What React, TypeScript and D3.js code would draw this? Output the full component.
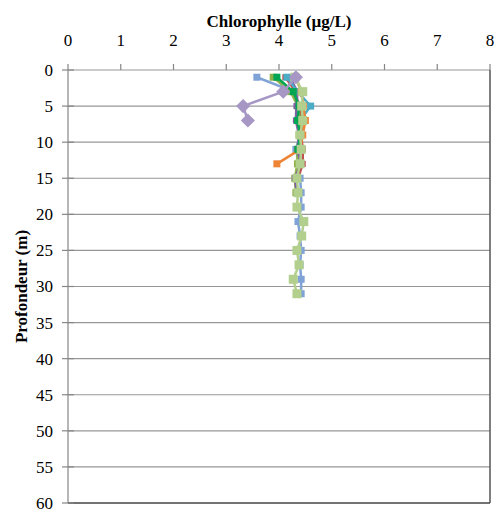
import React from "react";
import * as d3 from "d3";

const xTicks = [0, 1, 2, 3, 4, 5, 6, 7, 8];
const yTicks = [0, 5, 10, 15, 20, 25, 30, 35, 40, 45, 50, 55, 60];
const depths = [1, 3, 5, 7, 9, 11, 13, 15, 17, 19, 21, 23, 25, 27, 29, 31];

const blueVals = [3.58, 4.28, 4.4, 4.36, 4.4, 4.32, 4.38, 4.4, 4.42, 4.42, 4.36, 4.4, 4.42, 4.4, 4.42, 4.42];
const redVals = [4.12, 4.32, 4.36, 4.45, 4.42, 4.45, 4.45, 4.36];
const oliveVals = [3.89, 4.22, 4.36, 4.4, 4.38, 4.35, 4.35, 4.3, 4.32];
const purpleVals = [4.2, 4.35, 4.33, 4.32, 4.38, 4.35, 4.42, 4.3, 4.34];
const tealVals = [4.15, 4.35, 4.6, 4.4];
const orangeVals = [4.32, 4.42, 4.46, 4.5, 4.45, 4.4, 3.96];
const greenVals = [3.96, 4.27, 4.38, 4.35, 4.4, 4.36];
const lightGreenVals = [4.3, 4.45, 4.43, 4.45, 4.4, 4.42, 4.4, 4.34, 4.36, 4.34, 4.47, 4.43, 4.34, 4.38, 4.27, 4.34];
const lavenderVals = [4.32, 4.08, 3.32, 3.41];

const series = [
  { vals: blueVals, color: "#7FA3D6", shape: "square", size: 7 },
  { vals: redVals, color: "#C0504D", shape: "square", size: 6 },
  { vals: oliveVals, color: "#8DB04A", shape: "square", size: 7 },
  { vals: purpleVals, color: "#7F5FA6", shape: "square", size: 6 },
  { vals: tealVals, color: "#4BACC6", shape: "square", size: 7 },
  { vals: orangeVals, color: "#EE8435", shape: "square", size: 7 },
  { vals: greenVals, color: "#00A651", shape: "square", size: 7 },
  { vals: lightGreenVals, color: "#B3CF8D", shape: "square", size: 9 },
  { vals: lavenderVals, color: "#A697C4", shape: "diamond", size: 10 },
];

const W = 500, H = 512;
const L = 68, R = 490, T = 70, B = 503;
const font = "'Liberation Serif', 'Times New Roman', Times, serif";

export default function App() {
  const x = d3.scaleLinear().domain([0, 8]).range([L, R]);
  const y = d3.scaleLinear().domain([0, 60]).range([T, B]);
  const line = d3.line<[number, number]>().x((d) => x(d[0])).y((d) => y(d[1]));

  return (
    <svg width={W} height={H} style={{ position: "absolute", left: 0, top: 0, background: "#fff" }}>
      {yTicks.map((t) => (
        <line key={"g" + t} x1={L} x2={R} y1={y(t)} y2={y(t)} stroke="#979797" strokeWidth={1.2} />
      ))}
      <line x1={L} x2={L} y1={T} y2={B} stroke="#868686" strokeWidth={1.2} />
      <line x1={R} x2={R} y1={T} y2={B} stroke="#555" strokeWidth={1.5} />
      <line x1={L} x2={R} y1={B} y2={B} stroke="#555" strokeWidth={1.5} />
      {yTicks.map((t) => (
        <line key={"yt" + t} x1={L - 6} x2={L + 6} y1={y(t)} y2={y(t)} stroke="#868686" strokeWidth={1.2} />
      ))}
      {xTicks.map((t) => (
        <line key={"xt" + t} x1={x(t)} x2={x(t)} y1={T - 6} y2={T} stroke="#868686" strokeWidth={1.2} />
      ))}
      {xTicks.map((t) => (
        <text key={"xl" + t} x={x(t)} y={46} textAnchor="middle" fontFamily={font} fontSize={17} fill="#000">
          {t}
        </text>
      ))}
      {yTicks.map((t) => (
        <text key={"yl" + t} x={53} y={y(t)} dy="0.35em" textAnchor="end" fontFamily={font} fontSize={17} fill="#000">
          {t}
        </text>
      ))}
      <text x={(L + R) / 2} y={27} textAnchor="middle" fontFamily={font} fontSize={17} fontWeight="bold">
        Chlorophylle (µg/L)
      </text>
      <text
        transform={`translate(27, ${(T + B) / 2}) rotate(-90)`}
        textAnchor="middle"
        fontFamily={font}
        fontSize={17}
        fontWeight="bold"
      >
        Profondeur (m)
      </text>
      {series.map((s, i) => {
        const pts: [number, number][] = s.vals.map((v, j) => [v, depths[j]]);
        return (
          <g key={"s" + i}>
            <path d={line(pts) || ""} fill="none" stroke={s.color} strokeWidth={2.5} strokeLinejoin="round" />
            {pts.map((p, j) =>
              s.shape === "square" ? (
                <rect
                  key={j}
                  x={x(p[0]) - s.size / 2}
                  y={y(p[1]) - s.size / 2}
                  width={s.size}
                  height={s.size}
                  fill={s.color}
                />
              ) : (
                <rect
                  key={j}
                  x={-s.size / 2}
                  y={-s.size / 2}
                  width={s.size}
                  height={s.size}
                  fill={s.color}
                  transform={`translate(${x(p[0])},${y(p[1])}) rotate(45)`}
                />
              )
            )}
          </g>
        );
      })}
    </svg>
  );
}
